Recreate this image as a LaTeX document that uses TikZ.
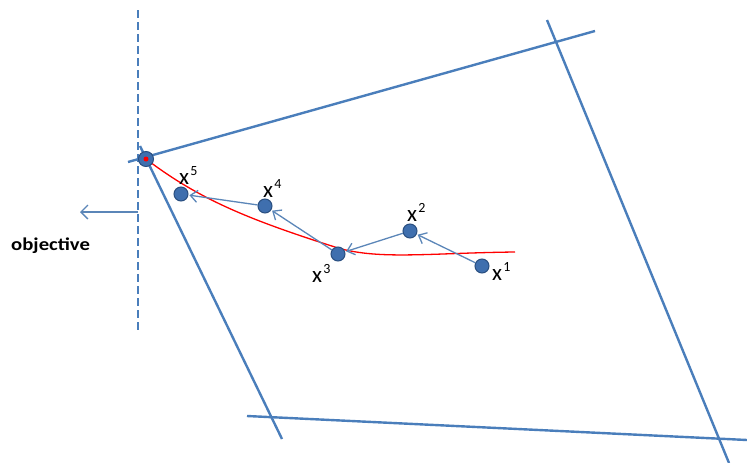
\documentclass[tikz,border=0pt]{standalone}
\usepackage{fontspec}
\setmainfont{Carlito}
\usetikzlibrary{arrows.meta}
\definecolor{lineblue}{HTML}{4A7EBB}
\definecolor{ptfill}{HTML}{3F6FAE}
\definecolor{ptdraw}{HTML}{2A4F80}
\definecolor{arrblue}{HTML}{5B86B8}
\tikzset{
  bound/.style={lineblue, line width=2.4pt},
  pt/.style={circle, fill=ptfill, draw=ptdraw, line width=1pt, minimum size=14pt, inner sep=0pt},
  lab/.style={font=\fontsize{23}{23}\selectfont, inner sep=0pt},
  suplab/.style={font=\fontsize{14}{14}\selectfont, inner sep=0pt, anchor=south west},
  stepline/.style={arrblue, line width=1.3pt, -{Straight Barb[length=7pt,width=12pt]}, shorten >=1pt},
}
\begin{document}
\begin{tikzpicture}[x=1pt,y=-1pt]
\useasboundingbox (0,0) rectangle (747,463);
% constraint lines
\draw[bound] (128,162) -- (595,31);
\draw[bound] (140,146) -- (282,439);
\draw[bound] (247,416) -- (747,440);
\draw[bound] (547,20) -- (729,463);
% objective dashed line
\draw[lineblue, line width=2.4pt, dash pattern=on 8pt off 4pt] (138,10) -- (138,332);
\coordinate (objs) at (138,212);
\coordinate (obje) at (80,212);
\draw[arrblue, line width=1.4pt, -{Straight Barb[length=7pt,width=14pt]}] (objs) -- (obje);
\node[font=\bfseries\fontsize{18}{18}\selectfont, anchor=west, xscale=1.15, inner sep=0pt] (objl) at (11,246) {objective};
% central path
\draw[red, line width=1.3pt] (146,159) .. controls (200,200) and (250,220) .. (338,248)
  .. controls (380,260) and (430,253) .. (515,252);
% points
\node[pt] (x1) at (482,266) {};
\node[pt] (x2) at (410,231) {};
\node[pt] (x3) at (338,254) {};
\node[pt] (x4) at (265,206) {};
\node[pt] (x5) at (181,194) {};
\node[circle, fill=ptfill, draw=ptdraw, line width=1pt, minimum size=15pt, inner sep=0pt] (v) at (146,159) {};
\fill[red] (v.center) circle (2.5pt);
% steps
\draw[stepline] (x1) -- (x2);
\draw[stepline] (x2) -- (x3);
\draw[stepline] (x3) -- (x4);
\draw[stepline] (x4) -- (x5);
% labels
\node[lab] (l1) at (497,275) {x};
\node[suplab] (s1) at ([shift={(1,2)}]l1.north east) {1};
\node[lab] (l2) at (412,216) {x};
\node[suplab] (s2) at ([shift={(1,2)}]l2.north east) {2};
\node[lab] (l3) at (317,277) {x};
\node[suplab] (s3) at ([shift={(1,2)}]l3.north east) {3};
\node[lab] (l4) at (268,192) {x};
\node[suplab] (s4) at ([shift={(1,2)}]l4.north east) {4};
\node[lab] (l5) at (184,179) {x};
\node[suplab] (s5) at ([shift={(1,2)}]l5.north east) {5};
\end{tikzpicture}
\end{document}
